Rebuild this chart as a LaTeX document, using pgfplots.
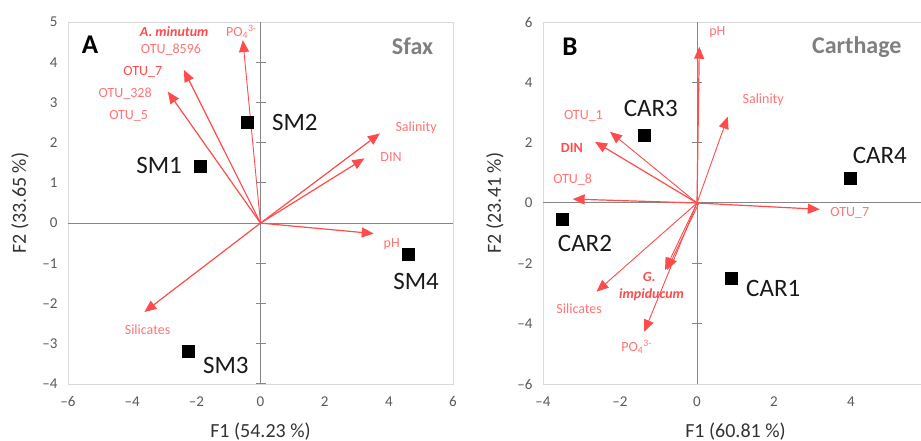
\documentclass[border=0pt]{standalone}
\usepackage{fontspec}
\setmainfont{Carlito}
\usepackage{pgfplots}
\pgfplotsset{compat=1.18}
\usetikzlibrary{arrows.meta}

\definecolor{arrowred}{HTML}{FF4B4B}
\definecolor{labelred}{HTML}{FF7474}
\definecolor{framegray}{HTML}{D9D9D9}
\definecolor{axisgray}{HTML}{868686}
\definecolor{tickgray}{HTML}{595959}
\definecolor{titlegray}{HTML}{7F7F7F}

\newcommand{\fs}[1]{\fontsize{#1}{#1}\selectfont}

\tikzset{
  arr/.style={arrowred, line width=1.2pt, -{Triangle[length=12pt,width=10pt]}},
  vlab/.style={font=\fs{14}, text=labelred},
  slab/.style={font=\fs{25}, text=black!90},
}
\pgfplotsset{
  pca/.style={
    scale only axis,
    width=385pt, height=362pt,
    anchor=south west,
    axis line style={framegray, line width=0.8pt},
    major tick length=0pt,
    /pgf/number format/assume math mode=true,
    ticklabel style={font=\fs{15}, text=tickgray},
    xticklabel style={yshift=-9pt},
    yticklabel style={xshift=-7pt},
    label style={font=\fs{20}, text=black!80},
    xlabel style={at={(axis description cs:0.5,0)}, anchor=base, yshift=-53.5pt},
    ylabel style={at={(axis description cs:0,0.5)}, anchor=center, yshift=48pt},
  },
  samp/.style={only marks, mark=square*, mark size=6pt, black},
}

\begin{document}
\begin{tikzpicture}[x=1pt,y=1pt]

% ---------------- A : Sfax ----------------
\begin{axis}[pca, at={(68pt,57pt)},
    xmin=-6, xmax=6, ymin=-4, ymax=5,
    xtick={-6,-4,-2,0,2,4,6},
    xticklabels={–6,–4,–2,0,2,4,6},
    ytick={-4,-3,-2,-1,0,1,2,3,4,5},
    yticklabels={–4,–3,–2,–1,0,1,2,3,4,5},
    xlabel={F1 (54.23 \%)}, ylabel={F2 (33.65 \%)}]
  \draw[axisgray, line width=1pt] (axis cs:0,-4) -- (axis cs:0,5);
  \draw[axisgray, line width=1pt] (axis cs:-6,0) -- (axis cs:6,0);
  \addplot[only marks, mark=-, mark size=5pt, axisgray, mark options={line width=1pt}]
    coordinates {(0,-4)(0,-3)(0,-2)(0,-1)(0,1)(0,2)(0,3)(0,4)};

  \addplot[arr, line width=0.9pt] coordinates {(0,0) (-0.55,4.55)};
  \addplot[arr] coordinates {(0,0) (-2.39,3.81)};
  \addplot[arr] coordinates {(0,0) (-2.89,3.27)};
  \addplot[arr] coordinates {(0,0) (3.72,2.23)};
  \addplot[arr] coordinates {(0,0) (3.24,1.61)};
  \addplot[arr] coordinates {(0,0) (3.53,-0.26)};
  \addplot[arr] coordinates {(0,0) (-3.62,-2.21)};

  \addplot[samp] coordinates {(-1.89,1.42) (-0.40,2.50) (-2.25,-3.18) (4.61,-0.77)};

  \node[vlab, font=\fs{14}\bfseries\itshape, text=arrowred] at (axis cs:-2.69,4.75) {A. minutum};
  \node[vlab] at (axis cs:-0.60,4.75) {PO\textsubscript{4}\textsuperscript{3-}};
  \node[vlab] at (axis cs:-2.79,4.30) {OTU\_8596};
  \node[vlab, text=arrowred] at (axis cs:-3.67,3.76) {OTU\_7};
  \node[vlab] at (axis cs:-4.22,3.23) {OTU\_328};
  \node[vlab] at (axis cs:-4.11,2.66) {OTU\_5};
  \node[vlab] at (axis cs:4.85,2.37) {Salinity};
  \node[vlab] at (axis cs:4.07,1.65) {DIN};
  \node[vlab] at (axis cs:4.09,-0.52) {pH};
  \node[vlab] at (axis cs:-3.52,-2.64) {Silicates};

  \node[slab] at (axis cs:-3.16,1.44) {SM1};
  \node[slab] at (axis cs:1.07,2.50) {SM2};
  \node[slab] at (axis cs:-1.08,-3.53) {SM3};
  \node[slab] at (axis cs:4.85,-1.46) {SM4};

  \node[font=\fs{27}\bfseries] at (axis cs:-5.31,4.43) {A};
  \node[font=\fs{24}\bfseries, text=titlegray] at (axis cs:4.74,4.39) {Sfax};
\end{axis}

% ---------------- B : Carthage ----------------
\begin{axis}[pca, at={(543pt,57pt)},
    xmin=-4, xmax=6, ymin=-6, ymax=6,
    xtick={-4,-2,0,2,4,6},
    xticklabels={–4,–2,0,2,4,6},
    ytick={-6,-4,-2,0,2,4,6},
    yticklabels={–6,–4,–2,0,2,4,6},
    xlabel={F1 (60.81 \%)}, ylabel={F2 (23.41 \%)}]
  \draw[axisgray, line width=1pt] (axis cs:0,-6) -- (axis cs:0,6);
  \draw[axisgray, line width=1pt] (axis cs:-4,0) -- (axis cs:6,0);
  \addplot[only marks, mark=-, mark size=5pt, axisgray, mark options={line width=1pt}]
    coordinates {(0,-4)(0,-2)(0,2)(0,4)};

  \addplot[arr] coordinates {(0,0) (0.06,5.18)};
  \addplot[arr, line width=0.9pt] coordinates {(0,0) (0.80,2.86)};
  \addplot[arr, line width=0.9pt] coordinates {(0,0) (-2.26,2.36)};
  \addplot[arr] coordinates {(0,0) (-2.65,2.03)};
  \addplot[arr] coordinates {(0,0) (-3.23,0.13)};
  \addplot[arr] coordinates {(0,0) (3.19,-0.21)};
  \addplot[arr, line width=0.9pt] coordinates {(0,0) (-2.61,-2.94)};
  \addplot[arr, line width=0.9pt] coordinates {(0,0) (-0.83,-2.22)};
  \addplot[arr, line width=0.9pt] coordinates {(0.05,0) (-0.78,-2.22)};
  \addplot[arr, line width=0.9pt] coordinates {(0,0) (-1.37,-4.27)};

  \addplot[samp] coordinates {(0.90,-2.50) (-3.51,-0.53) (-1.38,2.25) (3.99,0.82)};

  \node[vlab] at (axis cs:0.53,5.66) {pH};
  \node[vlab] at (axis cs:1.72,3.41) {Salinity};
  \node[vlab] at (axis cs:-2.95,2.89) {OTU\_1};
  \node[vlab, font=\fs{14}\bfseries, text=arrowred] at (axis cs:-3.25,1.81) {DIN};
  \node[vlab] at (axis cs:-3.23,0.76) {OTU\_8};
  \node[vlab] at (axis cs:3.97,-0.33) {OTU\_7};
  \node[vlab, font=\fs{14}\bfseries\itshape, text=arrowred] at (axis cs:-1.24,-2.44) {G.};
  \node[vlab, font=\fs{14}\bfseries\itshape, text=arrowred] at (axis cs:-1.18,-3.05) {impiducum};
  \node[vlab] at (axis cs:-3.06,-3.52) {Silicates};
  \node[vlab] at (axis cs:-1.57,-4.76) {PO\textsubscript{4}\textsuperscript{3-}};

  \node[slab] at (axis cs:1.98,-2.83) {CAR1};
  \node[slab] at (axis cs:-2.91,-1.34) {CAR2};
  \node[slab] at (axis cs:-1.20,3.14) {CAR3};
  \node[slab] at (axis cs:4.75,1.59) {CAR4};

  \node[font=\fs{27}\bfseries] at (axis cs:-3.30,5.18) {B};
  \node[font=\fs{24}\bfseries, text=titlegray] at (axis cs:4.15,5.18) {Carthage};
\end{axis}

\pgfresetboundingbox
\path (0pt,0pt) rectangle (921pt,441pt);
\end{tikzpicture}
\end{document}
